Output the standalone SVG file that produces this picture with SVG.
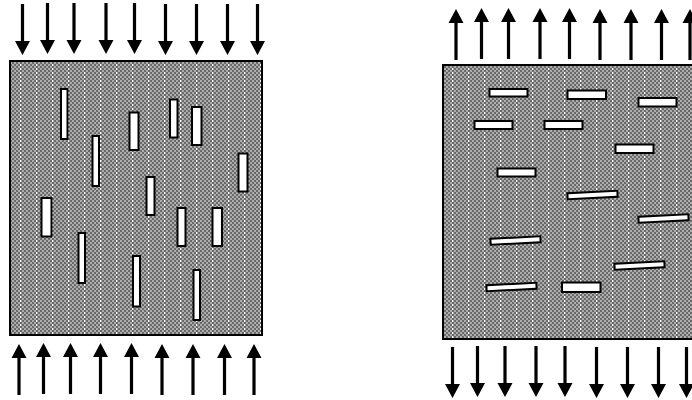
<svg xmlns="http://www.w3.org/2000/svg" xmlns:xlink="http://www.w3.org/1999/xlink" width="692" height="400" viewBox="0 0 692 400">
  <style>
    .panel { fill: url(#mesh); stroke: #000; stroke-width: 2; }
    .fiber { fill: #fff; stroke: #000; stroke-width: 2; }
    .arrow { fill: #000; }
  </style>
  <defs>
    <pattern id="mesh" patternUnits="userSpaceOnUse" width="16" height="4" shape-rendering="crispEdges">
      <rect width="16" height="4" fill="#6a6a6a"/>
      <rect x="0" y="0" width="2" height="2" fill="#adadad"/>
      <rect x="4" y="0" width="2" height="2" fill="#adadad"/>
      <rect x="8" y="0" width="2" height="2" fill="#adadad"/>
      <rect x="12" y="0" width="2" height="2" fill="#adadad"/>
      <rect x="2" y="2" width="2" height="2" fill="#adadad"/>
      <rect x="6" y="2" width="2" height="2" fill="#adadad"/>
      <rect x="10" y="2" width="2" height="2" fill="#adadad"/>
      <rect x="14" y="2" width="2" height="2" fill="#adadad"/>
      <rect x="4" y="0" width="1" height="2" fill="#fff"/>
    </pattern>
    <path id="down" class="arrow" d="M-1.6,0 H1.6 V37 H7.5 L0,51 L-7.5,37 H-1.6 Z"/>
    <path id="up" class="arrow" d="M-1.6,51 H1.6 V14 H7.5 L0,0 L-7.5,14 H-1.6 Z"/>
  </defs>

  <g id="left-panel">
    <rect class="panel" x="10" y="61" width="252" height="274"/>
    <g id="left-fibers">
      <rect class="fiber" x="61" y="89" width="6.5" height="50"/>
      <rect class="fiber" x="92.5" y="136" width="6.5" height="50"/>
      <rect class="fiber" x="129.5" y="112.5" width="9" height="37.5"/>
      <rect class="fiber" x="170" y="99.5" width="7.5" height="38"/>
      <rect class="fiber" x="192" y="107" width="9.5" height="38"/>
      <rect class="fiber" x="238.5" y="153.5" width="9" height="38"/>
      <rect class="fiber" x="146.5" y="177" width="8" height="38"/>
      <rect class="fiber" x="41.5" y="198" width="10" height="38.5"/>
      <rect class="fiber" x="78.5" y="233" width="6.5" height="50"/>
      <rect class="fiber" x="133" y="256" width="7" height="50.5"/>
      <rect class="fiber" x="177.5" y="208" width="8" height="38"/>
      <rect class="fiber" x="212.5" y="208" width="9.5" height="38"/>
      <rect class="fiber" x="193.5" y="270" width="6.5" height="50"/>
    </g>
  </g>

  <g id="right-panel">
    <rect class="panel" x="443" y="65" width="252" height="274"/>
    <g id="right-fibers">
      <rect class="fiber" x="489.5" y="89" width="38" height="7.5"/>
      <rect class="fiber" x="567.5" y="90.5" width="38.5" height="8.5"/>
      <rect class="fiber" x="638.5" y="98" width="38" height="8.5"/>
      <rect class="fiber" x="474.5" y="121" width="38" height="8"/>
      <rect class="fiber" x="544.5" y="121" width="38" height="8"/>
      <rect class="fiber" x="615.5" y="144.5" width="38" height="8.5"/>
      <rect class="fiber" x="497.5" y="168.5" width="38" height="8"/>
      <rect class="fiber" x="562" y="282.5" width="38.5" height="9.5"/>
      <rect class="fiber" x="-25" y="-3" width="50" height="6" transform="translate(592.5 195) rotate(-3)"/>
      <rect class="fiber" x="-25" y="-3" width="50" height="6" transform="translate(663.5 218.5) rotate(-3)"/>
      <rect class="fiber" x="-25" y="-3" width="50" height="6" transform="translate(515.5 240.5) rotate(-3)"/>
      <rect class="fiber" x="-25" y="-3" width="50" height="6" transform="translate(639.5 265.5) rotate(-3)"/>
      <rect class="fiber" x="-25" y="-3" width="50" height="6" transform="translate(511.5 287) rotate(-3)"/>
    </g>
  </g>

  <g id="arrows">
    <g id="left-top-arrows">
      <use href="#down" x="22.5" y="4"/>
      <use href="#down" x="47.5" y="3"/>
      <use href="#down" x="74" y="3"/>
      <use href="#down" x="106" y="3"/>
      <use href="#down" x="134.5" y="3"/>
      <use href="#down" x="165.5" y="4"/>
      <use href="#down" x="196.5" y="4"/>
      <use href="#down" x="227.5" y="4"/>
      <use href="#down" x="257.5" y="4"/>
    </g>
    <g id="left-bottom-arrows">
      <use href="#up" x="19" y="344"/>
      <use href="#up" x="43.5" y="343"/>
      <use href="#up" x="70.5" y="343"/>
      <use href="#up" x="100.5" y="343"/>
      <use href="#up" x="131.5" y="343"/>
      <use href="#up" x="162" y="344"/>
      <use href="#up" x="193" y="344"/>
      <use href="#up" x="224.5" y="344"/>
      <use href="#up" x="254" y="344"/>
    </g>
    <g id="right-top-arrows">
      <use href="#up" x="456" y="9"/>
      <use href="#up" x="481.5" y="8"/>
      <use href="#up" x="508.5" y="8"/>
      <use href="#up" x="540" y="8"/>
      <use href="#up" x="569.5" y="8"/>
      <use href="#up" x="600" y="9"/>
      <use href="#up" x="631" y="9"/>
      <use href="#up" x="661.5" y="9"/>
      <use href="#up" x="690" y="9"/>
    </g>
    <g id="right-bottom-arrows">
      <use href="#down" x="452.5" y="347"/>
      <use href="#down" x="477.5" y="346"/>
      <use href="#down" x="505" y="346"/>
      <use href="#down" x="536" y="346"/>
      <use href="#down" x="565" y="346"/>
      <use href="#down" x="596.5" y="347"/>
      <use href="#down" x="627.5" y="347"/>
      <use href="#down" x="658.5" y="347"/>
      <use href="#down" x="686.5" y="347"/>
    </g>
  </g>
</svg>
